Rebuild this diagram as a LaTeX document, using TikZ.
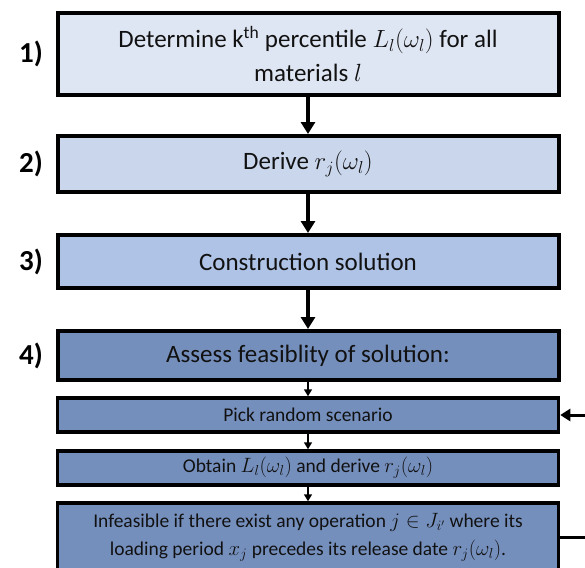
\documentclass[tikz,border=0pt]{standalone}
\usepackage{fontspec}
\setmainfont{Carlito}
\usetikzlibrary{arrows.meta}
\definecolor{fillA}{HTML}{DFE6F3}
\definecolor{fillB}{HTML}{C9D6EC}
\definecolor{fillC}{HTML}{AFC3E6}
\definecolor{fillD}{HTML}{758FBD}
\definecolor{inktext}{HTML}{111111}
\begin{document}
\begin{tikzpicture}[x=1pt,y=-1pt,
  box/.style={draw=black, line width=4pt, minimum width=501pt, inner sep=0pt,
    align=center, text=inktext, font=\fontsize{25}{34}\selectfont},
  subbox/.style={box, line width=3.5pt, font=\fontsize{19.5}{28}\selectfont},
  steplabel/.style={font=\fontsize{29}{30}\selectfont\bfseries, text=black},
  bigarrow/.style={line width=3.5pt, -{Triangle[width=14pt,length=12pt]}},
  smallarrow/.style={line width=1.6pt, -{Triangle[width=8pt,length=7pt]}},
  backarrow/.style={line width=3pt, -{Triangle[width=12pt,length=10pt]}}]
\useasboundingbox (0,0) rectangle (585,567);
\clip (0,0) rectangle (585,567);

% main steps
\node[box, fill=fillA, minimum height=82pt] (s1) at (308,54)
  {Determine k\textsuperscript{th} percentile $L_l(\omega_l)$ for all\\ materials $l$};
\node[box, fill=fillB, minimum height=56pt] (s2) at (308,164) {Derive $r_j(\omega_l)$};
\node[box, fill=fillC, minimum height=53pt] (s3) at (308,261.5) {Construction solution};
\node[box, fill=fillD, minimum height=49pt] (s4) at (308,355.5) {Assess feasiblity of solution:};

% feasibility check
\node[subbox, fill=fillD, minimum height=34pt] (pick) at (308,415) {Pick random scenario};
\node[subbox, fill=fillD, minimum height=34pt] (obtain) at (308,468)
  {Obtain $L_l(\omega_l)$ and derive $r_j(\omega_l)$};
\node[subbox, fill=fillD, minimum height=69pt] (infeas) at (308,537.5)
  {Infeasible if there exist any operation $j\in J_{i'}$ where its\\
   loading period $x_j$ precedes its release date $r_j(\omega_l)$.};

% step numbers
\node[steplabel] (n1) at (31,54) {1)};
\node[steplabel] (n2) at (31,164) {2)};
\node[steplabel] (n3) at (31,261.5) {3)};
\node[steplabel] (n4) at (31,355.5) {4)};

% connectors
\draw[bigarrow] (s1) -- (s2);
\draw[bigarrow] (s2) -- (s3);
\draw[bigarrow] (s3) -- (s4);
\draw[smallarrow] (s4) -- (pick);
\draw[smallarrow] (pick) -- (obtain);
\draw[smallarrow] (obtain) -- (infeas);
\coordinate (loop) at (600,537.5);
\draw[backarrow] (infeas.east) -- (loop) |- (pick.east);
\end{tikzpicture}
\end{document}
